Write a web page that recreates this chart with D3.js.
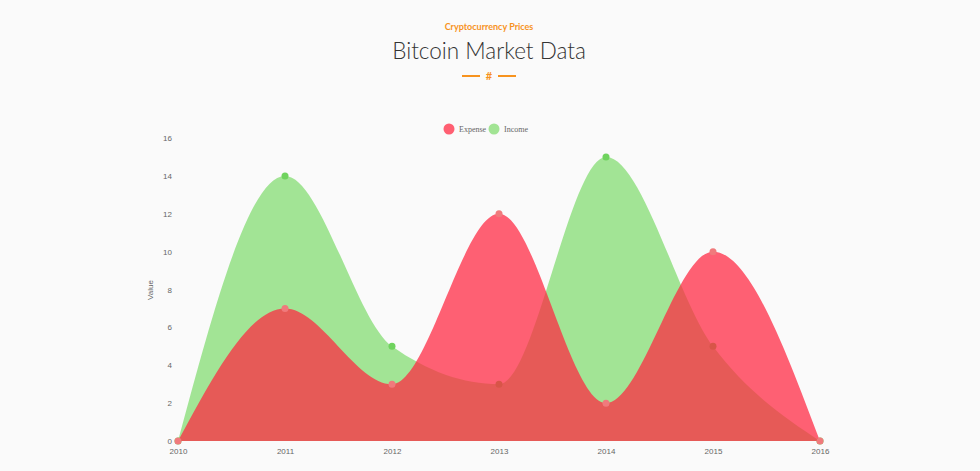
<!DOCTYPE html>
<html>
<head>
<meta charset="utf-8">
<script src="https://cdn.jsdelivr.net/npm/d3@7"></script>
<style>
  body { margin: 0; background: #fafafa; }
  svg { display: block; }
</style>
</head>
<body>
<svg id="chart" width="980" height="471"></svg>
<script>
// DATA
const years = ['2010', '2011', '2012', '2013', '2014', '2015', '2016'];
const expense = [0, 7, 3, 12, 2, 10, 0];
const income = [0, 14, 5, 3, 15, 5, 0];
const yTicks = [0, 2, 4, 6, 8, 10, 12, 14, 16];

//SETUP
const svg = d3.select('#chart');

//HEADER
svg.append('text')
  .attr('x', 489).attr('y', 30)
  .attr('text-anchor', 'middle')
  .style('font-family', 'Lato, sans-serif')
  .style('font-weight', '700')
  .style('font-size', '9px')
  .style('fill', '#f7931e')
  .text('Cryptocurrency Prices');

svg.append('text')
  .attr('x', 489).attr('y', 59)
  .attr('text-anchor', 'middle')
  .style('font-family', 'Lato, sans-serif')
  .style('font-weight', '300')
  .style('font-size', '22.5px')
  .style('fill', '#333')
  .text('Bitcoin Market Data');

svg.append('line').attr('x1', 462).attr('x2', 480).attr('y1', 76).attr('y2', 76)
  .attr('stroke', '#f7931e').attr('stroke-width', 2);
svg.append('line').attr('x1', 498).attr('x2', 516).attr('y1', 76).attr('y2', 76)
  .attr('stroke', '#f7931e').attr('stroke-width', 2);
svg.append('text')
  .attr('x', 489).attr('y', 80)
  .attr('text-anchor', 'middle')
  .style('font-family', 'Lato, sans-serif')
  .style('font-weight', '700')
  .style('font-size', '11px')
  .style('fill', '#f7931e')
  .text('#');

//SCALE AND AXIS
const xScale = d3.scalePoint()
  .domain(years)
  .range([178, 820]);

const yScale = d3.scaleLinear()
  .domain([0, 16])
  .range([441, 138]);

const xAxis = d3.axisBottom(xScale).tickSize(0).tickPadding(7);
svg.append('g')
  .attr('transform', 'translate(0,441)')
  .call(xAxis)
  .call(g => g.select('.domain').remove());

const yAxis = d3.axisLeft(yScale).tickValues(yTicks).tickSize(0).tickPadding(6);
svg.append('g')
  .attr('transform', 'translate(178,0)')
  .call(yAxis)
  .call(g => g.select('.domain').remove());

svg.selectAll('.tick text')
  .style('font-family', '"Liberation Sans", Arial, sans-serif')
  .style('font-size', '8px')
  .style('fill', '#666');

//Y LABEL
svg.append('text')
  .attr('transform', 'rotate(-90)')
  .attr('x', -290)
  .attr('y', 153)
  .style('text-anchor', 'middle')
  .style('font-family', '"Liberation Sans", Arial, sans-serif')
  .style('font-size', '8px')
  .style('fill', '#666')
  .text('Value');

//AREAS
const series = [
  { name: 'Income', values: income, fill: 'rgba(103, 213, 82, 0.6)', dot: '#6fd35e' },
  { name: 'Expense', values: expense, fill: 'rgba(255, 38, 65, 0.73)', dot: '#f07a7c' },
];

const area = d3.area()
  .x((d, i) => xScale(years[i]))
  .y0(yScale(0))
  .y1(d => yScale(d))
  .curve(d3.curveMonotoneX);

series.forEach(s => {
  svg.append('path')
    .datum(s.values)
    .attr('d', area)
    .attr('fill', s.fill);

  svg.selectAll(null)
    .data(s.values)
    .enter()
    .append('circle')
    .attr('cx', (d, i) => xScale(years[i]))
    .attr('cy', d => yScale(d))
    .attr('r', 3.5)
    .attr('fill', s.dot);
});

//LEGEND
const legendItems = [
  { name: 'Expense', color: '#ff5f72', x: 449 },
  { name: 'Income', color: '#a2e494', x: 494 },
];
const legend = svg.selectAll('.legend')
  .data(legendItems)
  .enter()
  .append('g')
  .attr('transform', d => `translate(${d.x},129)`);

legend.append('circle')
  .attr('r', 5.5)
  .attr('fill', d => d.color);

legend.append('text')
  .attr('x', 10)
  .attr('y', 3)
  .style('font-family', '"Liberation Serif", "Times New Roman", serif')
  .style('font-size', '8px')
  .style('fill', '#666')
  .text(d => d.name);
</script>
</body>
</html>
